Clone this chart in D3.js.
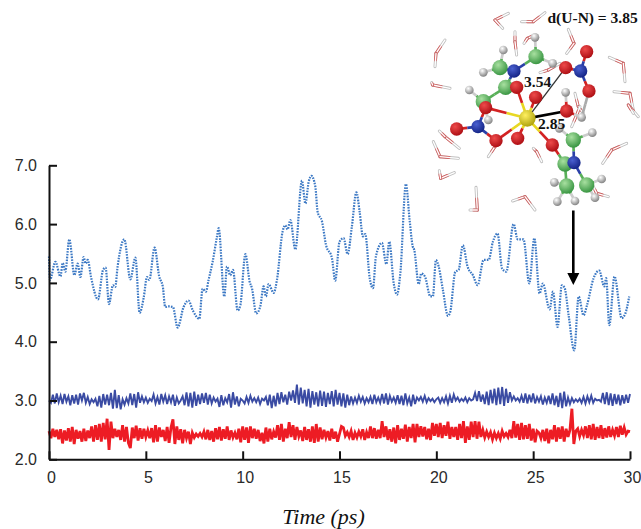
<!DOCTYPE html>
<html>
<head>
<meta charset="utf-8">
<script src="https://cdn.jsdelivr.net/npm/d3@7"></script>
<style>
html, body { margin: 0; padding: 0; background: #fff; }
svg { display: block; }
</style>
</head>
<body>
<div id="chart"></div>
<script>
var xTicks = [0, 5, 10, 15, 20, 25, 30]
var yTicks = [2, 3, 4, 5, 6, 7]
var xTitle = "Time (ps)"

// d(U-N), light blue dotted trace
var unTime = [0,0.05,0.33,0.59,0.71,0.84,1.05,1.31,1.48,1.62,1.79,1.89,2.0,2.17,2.53,2.79,2.92,3.1,3.3,3.42,3.54,3.89,4.2,4.46,4.68,4.89,5.06,5.18,5.45,5.69,5.88,6.0,6.17,6.4,6.64,6.95,7.2,7.43,7.76,7.93,8.1,8.24,8.45,8.67,8.76,
  9.05,9.19,9.36,9.5,9.74,9.88,10.14,10.36,10.48,10.7,10.91,11.08,11.2,11.34,11.6,11.77,12.06,12.2,12.32,12.46,12.72,13.06,13.24,13.41,13.55,13.75,13.87,14.1,14.3,14.61,14.78,15.0,15.21,15.42,15.64,15.87,16.04,16.21,16.33,16.56,16.73,16.88,17.19,17.42,17.57,17.8,17.97,18.14,18.43,18.62,18.78,18.86,19.09,19.22,
  19.41,19.69,19.82,19.98,20.12,20.34,20.6,20.72,20.98,21.15,21.37,21.61,21.89,22.13,22.44,22.7,22.92,23.16,23.39,23.61,23.99,24.2,24.5,24.8,25.06,25.33,25.5,25.85,26.02,26.26,26.48,26.62,26.83,27.12,27.35,27.6,27.78,28.12,28.41,28.67,28.77,28.93,29.2,29.57,29.76,29.96]
var unValue = [5.45,5.05,5.36,5.11,5.34,5.19,5.74,5.13,5.33,5.1,5.44,5.33,5.39,5.1,4.72,5.22,5.26,4.64,4.96,4.93,5.27,5.74,5.06,5.43,4.49,4.75,5.1,5.05,5.6,5.11,4.93,4.59,4.6,4.59,4.24,4.59,4.7,4.53,4.39,4.9,4.85,5.05,5.36,5.78,5.93,
  4.77,5.28,5.13,5.22,4.53,4.62,5.49,5.02,4.91,4.48,4.6,4.94,4.77,4.98,4.83,5.05,5.87,5.98,5.91,6.07,5.57,6.74,6.35,6.72,6.82,6.64,6.21,6.04,5.65,5.42,5.04,5.7,5.76,5.49,5.96,6.54,6.21,5.79,5.83,5.08,4.91,5.45,5.68,5.32,5.7,4.99,4.8,5.16,6.68,6.07,5.62,5.56,4.98,5.16,
  5.11,4.77,4.77,5.39,5.28,4.88,4.44,4.51,5.19,5.22,5.64,5.28,5.13,4.96,5.39,5.39,5.7,5.84,5.25,5.19,6.0,5.74,5.74,4.99,5.76,4.82,4.99,4.55,4.85,4.25,4.96,4.92,4.45,3.85,4.77,4.45,4.62,5.08,5.21,4.94,5.08,4.28,5.11,4.4,4.48,4.77]

// dark blue trace, one value every 0.1 ps
var darkStep = 0.1
var darkValue = [
  3.0,2.96,3.1,2.95,3.12,2.97,3.08,2.94,3.11,2.98,
  3.07,2.92,3.09,2.95,3.1,2.93,3.12,3.0,3.13,2.96,
  3.06,2.94,3.02,2.97,3.03,2.9,3.08,2.88,3.11,2.93,
  3.1,2.92,3.13,2.86,3.18,2.87,3.09,2.85,3.02,2.93,
  3.04,2.95,3.12,2.92,3.11,2.88,3.14,2.96,3.07,2.97,
  3.05,2.96,3.03,2.99,3.1,2.95,3.06,2.93,3.11,2.98,
  3.09,2.94,3.07,2.97,3.1,2.91,3.05,2.95,3.0,3.07,
  2.92,3.14,2.9,3.13,2.88,3.15,2.91,3.1,2.94,3.12,
  2.96,3.13,2.93,3.1,2.95,3.05,2.98,3.03,2.89,3.09,
  2.92,3.04,2.97,3.11,2.88,3.14,2.93,3.07,2.9,3.03,
  3.0,2.95,3.06,2.96,3.08,2.98,3.04,2.97,3.05,2.94,
  3.03,3.0,3.06,2.92,3.1,2.87,3.08,2.9,3.13,2.94,
  3.14,2.97,3.1,2.93,3.15,3.0,3.17,2.96,3.27,2.93,
  3.22,2.95,3.18,2.9,3.2,2.88,3.16,2.93,3.14,2.9,
  3.17,2.91,3.15,2.89,3.13,2.94,3.16,2.9,3.18,2.93,
  3.13,2.9,3.12,2.88,3.1,2.92,3.07,2.95,3.05,2.96,
  3.08,2.98,3.06,2.95,3.04,2.97,3.06,2.94,3.1,2.97,
  3.05,2.96,3.11,2.95,3.12,2.93,3.08,2.98,3.05,2.96,
  3.09,2.94,3.08,2.92,3.12,2.95,3.05,2.9,3.1,2.94,
  3.05,3.0,3.06,2.98,3.08,2.97,3.04,2.99,3.03,2.97,
  3.02,3.05,2.96,3.04,2.97,3.07,2.95,3.08,2.96,3.1,
  3.0,3.05,2.98,3.03,2.99,3.05,2.97,3.04,3.0,3.02,
  3.13,2.99,3.16,2.98,3.1,2.94,3.15,2.92,3.18,2.95,
  3.2,2.92,3.22,2.94,3.23,2.91,3.2,2.96,3.14,3.0,
  3.07,3.0,3.04,2.98,3.08,2.96,3.12,2.95,3.1,2.97,
  3.12,2.95,3.06,2.98,3.07,2.93,3.05,2.96,3.08,2.94,
  3.12,2.92,3.08,2.89,3.13,2.87,3.15,2.9,3.05,2.94,
  3.04,2.97,3.02,2.98,3.03,2.96,3.06,2.95,3.07,2.97,
  3.08,2.96,3.03,3.0,3.01,2.98,3.13,2.94,3.14,2.92,
  3.12,2.91,3.11,2.94,3.1,2.92,3.09,2.95,3.1,2.96,
  3.11]

// red trace, one value every 0.1 ps
var redStep = 0.1
var redValue = [
  2.48,2.36,2.52,2.38,2.5,2.34,2.51,2.27,2.49,2.32,
  2.53,2.3,2.55,2.26,2.5,2.35,2.48,2.3,2.52,2.31,
  2.49,2.36,2.56,2.3,2.58,2.33,2.6,2.3,2.62,2.34,
  2.69,2.16,2.64,2.36,2.52,2.38,2.5,2.33,2.58,2.3,
  2.55,2.28,2.19,2.54,2.36,2.57,2.32,2.53,2.35,2.52,
  2.38,2.49,2.36,2.53,2.29,2.58,2.3,2.54,2.38,2.5,
  2.31,2.55,2.28,2.54,2.68,2.26,2.56,2.33,2.51,2.27,
  2.5,2.36,2.47,2.26,2.45,2.37,2.43,2.39,2.44,2.38,
  2.47,2.34,2.5,2.33,2.48,2.3,2.53,2.34,2.55,2.32,
  2.51,2.35,2.56,2.33,2.49,2.37,2.45,2.34,2.52,2.29,
  2.56,2.33,2.54,2.28,2.56,2.36,2.52,2.35,2.5,2.31,
  2.45,2.27,2.54,2.3,2.52,2.34,2.47,2.37,2.58,2.33,
  2.6,2.3,2.52,2.36,2.63,2.38,2.58,2.33,2.55,2.39,
  2.49,2.31,2.55,2.33,2.51,2.3,2.56,2.28,2.6,2.3,
  2.54,2.34,2.5,2.37,2.48,2.32,2.52,2.35,2.47,2.3,
  2.43,2.56,2.54,2.4,2.46,2.38,2.48,2.33,2.45,2.37,
  2.47,2.39,2.51,2.33,2.46,2.36,2.56,2.36,2.53,2.35,
  2.5,2.36,2.65,2.38,2.56,2.33,2.51,2.3,2.54,2.27,
  2.58,2.33,2.52,2.35,2.59,2.3,2.55,2.36,2.6,2.29,
  2.6,2.38,2.56,2.39,2.55,2.34,2.52,2.33,2.62,2.4,
  2.6,2.38,2.62,2.36,2.58,2.4,2.64,2.35,2.55,2.38,
  2.55,2.33,2.6,2.36,2.65,2.28,2.56,2.33,2.64,2.38,
  2.65,2.35,2.64,2.38,2.5,2.37,2.47,2.38,2.46,2.34,
  2.45,2.36,2.44,2.35,2.48,2.39,2.44,2.38,2.5,2.36,
  2.65,2.37,2.6,2.33,2.62,2.34,2.58,2.35,2.6,2.32,
  2.52,2.29,2.48,2.45,2.36,2.5,2.31,2.52,2.27,2.5,
  2.34,2.58,2.3,2.54,2.35,2.56,2.3,2.52,2.38,2.5,
  2.86,2.26,2.48,2.52,2.39,2.5,2.41,2.56,2.36,2.58,
  2.34,2.6,2.33,2.55,2.36,2.58,2.35,2.53,2.37,2.56,
  2.38,2.5,2.4,2.55,2.38,2.57,2.42,2.54,2.42,2.48,
  2.47]

// inset: VMD style snapshot, coordinates in a 3x inset frame
var bonds = [
  [322,355,290,262,"#e8d820","#d32020"],[322,355,347,292,"#e8d820","#d32020"],[322,355,197,323,"#e8d820","#d32020"],
  [322,355,293,415,"#e8d820","#d32020"],[322,355,228,422,"#e8d820","#d32020"],[322,355,397,435,"#e8d820","#d32020"],
  [197,323,174,380,"#d32020","#2a3fa8"],[228,422,174,380,"#d32020","#2a3fa8"],[110,387,174,380,"#d32020","#2a3fa8"],
  [437,203,482,213,"#d32020","#2a3fa8"],[507,273,482,213,"#d32020","#2a3fa8"],[500,155,482,213,"#d32020","#2a3fa8"],
  [282,213,240,203,"#2a3fa8","#58b058"],[282,213,348,170,"#2a3fa8","#58b058"],[282,213,257,262,"#2a3fa8","#58b058"],
  [257,262,190,305,"#58b058","#58b058"],[462,488,460,420,"#2a3fa8","#58b058"],[462,488,435,492,"#2a3fa8","#58b058"],
  [462,488,500,555,"#2a3fa8","#58b058"],[435,492,440,558,"#58b058","#58b058"],[397,435,435,492,"#d32020","#58b058"],
  [240,203,190,217,"#58b058","#cccccc"],[240,203,250,150,"#58b058","#cccccc"],[348,170,398,190,"#58b058","#cccccc"],
  [348,170,345,112,"#58b058","#cccccc"],[190,305,148,270,"#58b058","#cccccc"],[190,305,205,360,"#58b058","#cccccc"],
  [460,420,517,398,"#58b058","#cccccc"],[460,420,418,385,"#58b058","#cccccc"],[440,558,403,547,"#58b058","#cccccc"],
  [440,558,412,605,"#58b058","#cccccc"],[440,558,465,603,"#58b058","#cccccc"],[500,555,545,537,"#58b058","#cccccc"],
  [500,555,525,593,"#58b058","#cccccc"],[440,333,437,277,"#d32020","#cccccc"],[440,333,485,352,"#d32020","#cccccc"],
  [485,352,507,273,"#aaaaaa","#aaaaaa"]
]
var atoms = [
  [250,150,"h"],[345,112,"h"],[190,217,"h"],[398,190,"h"],[148,270,"h"],[437,277,"h"],[485,352,"h"],[205,360,"h"],
  [517,398,"h"],[418,385,"h"],[403,547,"h"],[412,605,"h"],[465,603,"h"],[545,537,"h"],[525,593,"h"],
  [240,203,"c"],[348,170,"c"],[257,262,"c"],[190,305,"c"],[460,420,"c"],[435,492,"c"],[440,558,"c"],[500,555,"c"],
  [282,213,"n"],[482,213,"n"],[174,380,"n"],[462,488,"n"],
  [290,262,"o"],[347,292,"o"],[197,323,"o"],[440,333,"o"],[293,415,"o"],[228,422,"o"],[397,435,"o"],[110,387,"o"],
  [437,203,"o"],[507,273,"o"],[500,155,"o"],
  [322,355,"u"]
]
var atomStyle = {
  h: {r: 13, hi: "#ffffff", lo: "#777777"},
  c: {r: 23, hi: "#a8e0a0", lo: "#2f8f3a"},
  n: {r: 20, hi: "#4a60d0", lo: "#101f80"},
  o: {r: 20, hi: "#ee4a4a", lo: "#a80a10"},
  u: {r: 25, hi: "#fff060", lo: "#a89c08"}
}
var waters = [
  [225,60,265,40,248,85],[340,65,305,65,375,38],[462,130,445,88,440,160],[48,160,75,120,45,200],
  [38,255,90,265,35,248],[610,190,568,172,615,245],[630,280,582,275,640,330],[625,315,655,350,640,340],
  [60,470,40,425,115,475],[62,535,103,518,58,512],[75,410,118,445,58,393],[172,630,168,562,150,630],
  [315,590,278,603,345,630],[575,450,620,430,548,490],[350,455,340,445,365,485],[285,125,285,95,290,165],
  [322,115,345,105,312,130],[225,440,205,470,240,420],[530,580,565,590,520,560],[475,320,465,280,490,340],
  [470,345,455,380,480,320],[385,210,360,218,420,190]
]

var width = 641
var height = 529

var svg = d3.select("#chart").append("svg")
  .attr("width", width)
  .attr("height", height)

var x = d3.scaleLinear().domain([0, 30]).range([49, 630])
var y = d3.scaleLinear().domain([2, 7]).range([459.3, 165.3])

var line = d3.line()
  .x(function(d) { return x(d[0]) })
  .y(function(d) { return y(d[1]) })

var unPoints = unTime.map(function(t, i) { return [t, unValue[i]] })
var darkPoints = darkValue.map(function(v, i) { return [i * darkStep, v] })
var redPoints = redValue.map(function(v, i) { return [i * redStep, v] })

svg.append("path").datum(redPoints)
  .attr("d", line)
  .attr("fill", "none")
  .attr("stroke", "#ed1c24")
  .attr("stroke-width", 2.8)
svg.append("path").datum(darkPoints)
  .attr("d", line)
  .attr("fill", "none")
  .attr("stroke", "#3a4ba3")
  .attr("stroke-width", 1.9)
svg.append("path").datum(unPoints)
  .attr("d", line.curve(d3.curveMonotoneX))
  .attr("fill", "none")
  .attr("stroke", "#3b78c4")
  .attr("stroke-width", 2.2)
  .attr("stroke-dasharray", "1.6 1.2")
line.curve(d3.curveLinear)

// axes, ticks point inwards
var xAxis = svg.append("g")
  .attr("transform", "translate(0," + y(2) + ")")
  .call(d3.axisBottom(x).tickValues(xTicks).tickSizeInner(-8).tickSizeOuter(0).tickPadding(12))
var yAxis = svg.append("g")
  .attr("transform", "translate(" + x(0) + ",0)")
  .call(d3.axisLeft(y).tickValues(yTicks).tickFormat(d3.format(".1f")).tickSizeInner(-8).tickSizeOuter(0).tickPadding(12))

;[xAxis, yAxis].forEach(function(a) {
  a.selectAll("path, line").attr("stroke", "#111").attr("stroke-width", 2)
  a.selectAll("text")
    .attr("fill", "#2a2a2a")
    .style("font-family", "'Liberation Sans', Arial, sans-serif")
    .style("font-size", "16px")
})
xAxis.selectAll("text").attr("dx", 2)

svg.append("text")
  .attr("x", 323.5)
  .attr("y", 523.5)
  .attr("text-anchor", "middle")
  .style("font-family", "'Liberation Serif', 'Times New Roman', serif")
  .style("font-style", "italic")
  .style("font-size", "22px")
  .attr("fill", "#111")
  .text(xTitle)

// inset
var defs = svg.append("defs")
Object.keys(atomStyle).forEach(function(k) {
  var g = defs.append("radialGradient").attr("id", "atom-" + k)
    .attr("cx", "38%").attr("cy", "32%").attr("r", "75%")
  g.append("stop").attr("offset", "0%").attr("stop-color", atomStyle[k].hi)
  g.append("stop").attr("offset", "100%").attr("stop-color", atomStyle[k].lo)
})
defs.append("filter").attr("id", "soft")
  .append("feGaussianBlur").attr("stdDeviation", 1.2)

var inset = svg.append("g")
  .attr("transform", "translate(420,0) scale(0.3333)")
  .attr("filter", "url(#soft)")

waters.forEach(function(w) {
  [[w[2], w[3]], [w[4], w[5]]].forEach(function(h) {
    var mx = (w[0] + h[0]) / 2
    var my = (w[1] + h[1]) / 2
    inset.append("line").attr("x1", w[0]).attr("y1", w[1]).attr("x2", h[0]).attr("y2", h[1])
      .attr("stroke", "#bdbdbd").attr("stroke-width", 9).attr("stroke-linecap", "round")
    inset.append("line").attr("x1", w[0]).attr("y1", w[1]).attr("x2", mx).attr("y2", my)
      .attr("stroke", "#cf5c5c").attr("stroke-width", 9).attr("stroke-linecap", "round")
    inset.append("line").attr("x1", w[0]).attr("y1", w[1]).attr("x2", h[0]).attr("y2", h[1])
      .attr("stroke", "#fff").attr("stroke-width", 4).attr("stroke-linecap", "round")
  })
})

bonds.forEach(function(b) {
  var mx = (b[0] + b[2]) / 2
  var my = (b[1] + b[3]) / 2
  inset.append("line").attr("x1", b[0]).attr("y1", b[1]).attr("x2", mx).attr("y2", my)
    .attr("stroke", b[4]).attr("stroke-width", 8)
  inset.append("line").attr("x1", mx).attr("y1", my).attr("x2", b[2]).attr("y2", b[3])
    .attr("stroke", b[5]).attr("stroke-width", 8)
})

// distance lines from U
;[[322,355,437,203,4],[322,355,440,333,8]].forEach(function(d) {
  inset.append("line").attr("x1", d[0]).attr("y1", d[1]).attr("x2", d[2]).attr("y2", d[3])
    .attr("stroke", d[4] > 5 ? "#000" : "#333").attr("stroke-width", d[4])
})

atoms.forEach(function(a) {
  inset.append("circle")
    .attr("cx", a[0]).attr("cy", a[1])
    .attr("r", atomStyle[a[2]].r)
    .attr("fill", "url(#atom-" + a[2] + ")")
})

// arrow down to the frame on the trace
svg.append("line")
  .attr("x1", 573.3).attr("y1", 210.5).attr("x2", 573.3).attr("y2", 276)
  .attr("stroke", "#000").attr("stroke-width", 2.6)
svg.append("path")
  .attr("d", d3.line()([[567.3, 273], [579.3, 273], [573.3, 285]]) + "Z")
  .attr("fill", "#000")

var labels = [["d(U-N) = 3.85", 547.5, 23], ["3.54", 524, 87], ["2.85", 538, 129]]
labels.forEach(function(l) {
  svg.append("text")
    .attr("x", l[1]).attr("y", l[2])
    .style("font-family", "'Liberation Serif', 'Times New Roman', serif")
    .style("font-weight", "bold")
    .style("font-size", "15.5px")
    .attr("fill", "#111")
    .text(l[0])
})
</script>
</body>
</html>
